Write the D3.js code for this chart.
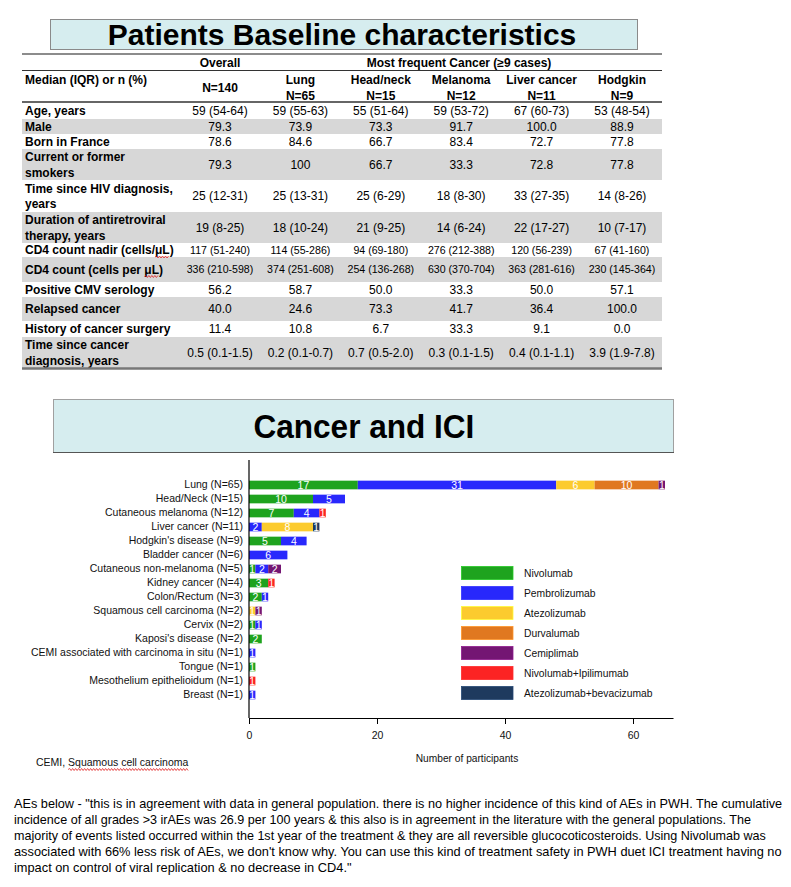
<!DOCTYPE html>
<html><head><meta charset="utf-8">
<script src="https://cdn.jsdelivr.net/npm/d3@7"></script>
<style>body{margin:0;background:#fff} svg{display:block;font-family:"Liberation Sans",Arial,sans-serif}</style>
</head><body><svg id="c" width="791" height="887"></svg>
<script>
// ---------- Table data ----------
const tableColumns = ["Overall","Lung","Head/neck","Melanoma","Liver cancer","Hodgkin"];
const tableN = ["N=140","N=65","N=15","N=12","N=11","N=9"];
const rowLabels = [["Age, years"],["Male"],["Born in France"],["Current or former","smokers"],["Time since HIV diagnosis,","years"],["Duration of antiretroviral","therapy, years"],["CD4 count nadir (cells/μL)"],["CD4 count (cells per μL)"],["Positive CMV serology"],["Relapsed cancer"],["History of cancer surgery"],["Time since cancer","diagnosis, years"]];
const overallVals = ["59 (54-64)","79.3","78.6","79.3","25 (12-31)","19 (8-25)","117 (51-240)","336 (210-598)","56.2","40.0","11.4","0.5 (0.1-1.5)"];
const lungVals = ["59 (55-63)","73.9","84.6","100","25 (13-31)","18 (10-24)","114 (55-286)","374 (251-608)","58.7","24.6","10.8","0.2 (0.1-0.7)"];
const headNeckVals = ["55 (51-64)","73.3","66.7","66.7","25 (6-29)","21 (9-25)","94 (69-180)","254 (136-268)","50.0","73.3","6.7","0.7 (0.5-2.0)"];
const melanomaVals = ["59 (53-72)","91.7","83.4","33.3","18 (8-30)","14 (6-24)","276 (212-388)","630 (370-704)","33.3","41.7","33.3","0.3 (0.1-1.5)"];
const liverVals = ["67 (60-73)","100.0","72.7","72.8","33 (27-35)","22 (17-27)","120 (56-239)","363 (281-616)","50.0","36.4","9.1","0.4 (0.1-1.1)"];
const hodgkinVals = ["53 (48-54)","88.9","77.8","77.8","14 (8-26)","10 (7-17)","67 (41-160)","230 (145-364)","57.1","100.0","0.0","3.9 (1.9-7.8)"];

// ---------- Chart data ----------
const categories = ["Lung (N=65)","Head/Neck (N=15)","Cutaneous melanoma (N=12)","Liver cancer (N=11)","Hodgkin's disease (N=9)","Bladder cancer (N=6)","Cutaneous non-melanoma (N=5)","Kidney cancer (N=4)","Colon/Rectum (N=3)","Squamous cell carcinoma (N=2)","Cervix (N=2)","Kaposi's disease (N=2)","CEMI associated with carcinoma in situ (N=1)","Tongue (N=1)","Mesothelium epithelioidum (N=1)","Breast (N=1)"];
const seriesNames = ["Nivolumab","Pembrolizumab","Atezolizumab","Durvalumab","Cemiplimab","Nivolumab+Ipilimumab","Atezolizumab+bevacizumab"];
const nivolumab      = [17,10,7,0,5,0,1,3,2,0,1,2,0,1,0,0];
const pembrolizumab  = [31,5,4,2,4,6,2,0,1,0,1,0,1,0,0,1];
const atezolizumab   = [6,0,0,8,0,0,0,0,0,1,0,0,0,0,0,0];
const durvalumab     = [10,0,0,0,0,0,0,0,0,0,0,0,0,0,0,0];
const cemiplimab     = [1,0,0,0,0,0,2,0,0,1,0,0,0,0,0,0];
const nivoIpi        = [0,0,1,0,0,0,0,1,0,0,0,0,0,0,1,0];
const atezoBev       = [0,0,0,1,0,0,0,0,0,0,0,0,0,0,0,0];
const xTicks = [0,20,40,60];
const seriesColors = ["#1ea31e","#2828fc","#fccb2e","#e07820","#741673","#fc2323","#1e3a5e"];

const paragraph = [
 'AEs below - "this is in agreement with data in general population. there is no higher incidence of this kind of AEs in PWH. The cumulative',
 'incidence of all grades >3 irAEs was 26.9 per 100 years & this also is in agreement in the literature with the general populations. The',
 'majority of events listed occurred within the 1st year of the treatment & they are all reversible glucocoticosteroids. Using Nivolumab was',
 "associated with 66% less risk of AEs, we don't know why. You can use this kind of treatment safety in PWH duet ICI treatment having no",
 'impact on control of viral replication & no decrease in CD4."'
];
const paragraphEnds = [783,752,767,783,352];

const svg = d3.select("#c");
svg.append("rect").attr("width",791).attr("height",887).attr("fill","#fff");

function wavy(g, x0, x1, y){
  let d = `M${x0},${y}`; let up = true;
  for (let x = x0 + 1.5; x <= x1; x += 1.5){ d += `L${x},${y + (up ? -1 : 1)}`; up = !up; }
  g.append("path").attr("d", d).attr("fill","none").attr("stroke","#e02020").attr("stroke-width",0.8);
}

// ---------- Title 1 ----------
svg.append("rect").attr("x",50.5).attr("y",19.5).attr("width",587).attr("height",30).attr("fill","#d6edef").attr("stroke","#8a8a8a");
svg.append("text").attr("x",342).attr("y",45).attr("text-anchor","middle").attr("font-weight","bold").attr("font-size",30).attr("fill","#000").text("Patients Baseline characteristics");

// ---------- Table ----------
const T = svg.append("g");
const colX = d3.scalePoint().domain(tableColumns).range([220,622]);
const rowBounds = [103,119,134,149,180,212,243,257,282,297,321,337,368];
const tableL = 22, tableR = 662;
rowLabels.forEach((lab,i)=>{
  if (i % 2 === 1) T.append("rect").attr("x",tableL).attr("y",rowBounds[i]).attr("width",tableR-tableL).attr("height",rowBounds[i+1]-rowBounds[i]).attr("fill","#d7d7d7");
});
const colVals = [overallVals,lungVals,headNeckVals,melanomaVals,liverVals,hodgkinVals];
rowLabels.forEach((lab,i)=>{
  const cy = (rowBounds[i]+rowBounds[i+1])/2;
  if (lab.length === 1){
    const t = T.append("text").attr("x",25).attr("y",cy+4.3).attr("font-weight","bold").attr("font-size",12).text(lab[0]);
    const idx = lab[0].indexOf("μL");
    if (idx >= 0){
      const n = t.node();
      const xs = 25 + n.getSubStringLength(0, idx);
      const xe = xs + n.getSubStringLength(idx, 2);
      wavy(T, xs, xe, cy + 7);
    }
  } else {
    lab.forEach((l,k)=> T.append("text").attr("x",25).attr("y",cy - 7.5 + k*15.5 + 4.3).attr("font-weight","bold").attr("font-size",12).text(l));
  }
  const small = (i === 6 || i === 7);
  tableColumns.forEach((c,j)=>{
    T.append("text").attr("x",colX(c)).attr("y",cy + (small?3.8:4.3)).attr("text-anchor","middle").attr("font-size", small?10.6:12).text(colVals[j][i]);
  });
});
// header
T.append("text").attr("x",colX("Overall")).attr("y",67).attr("text-anchor","middle").attr("font-weight","bold").attr("font-size",12).text("Overall");
T.append("text").attr("x",459).attr("y",67).attr("text-anchor","middle").attr("font-weight","bold").attr("font-size",12).text("Most frequent Cancer (≥9 cases)");
T.append("text").attr("x",25).attr("y",84).attr("font-weight","bold").attr("font-size",12).text("Median (IQR) or n (%)");
tableColumns.forEach((c,j)=>{
  if (j === 0){
    T.append("text").attr("x",colX(c)).attr("y",92).attr("text-anchor","middle").attr("font-weight","bold").attr("font-size",12).text(tableN[j]);
  } else {
    T.append("text").attr("x",colX(c)).attr("y",84).attr("text-anchor","middle").attr("font-weight","bold").attr("font-size",12).text(c);
    T.append("text").attr("x",colX(c)).attr("y",100).attr("text-anchor","middle").attr("font-weight","bold").attr("font-size",12).text(tableN[j]);
  }
});
T.append("line").attr("x1",tableL).attr("x2",tableR).attr("y1",54).attr("y2",54).attr("stroke","#8c8c8c").attr("stroke-width",2);
T.append("line").attr("x1",tableL).attr("x2",tableR).attr("y1",70.5).attr("y2",70.5).attr("stroke","#333").attr("stroke-width",1);
T.append("line").attr("x1",tableL).attr("x2",tableR).attr("y1",102).attr("y2",102).attr("stroke","#666").attr("stroke-width",2);
T.append("line").attr("x1",tableL).attr("x2",tableR).attr("y1",368.5).attr("y2",368.5).attr("stroke","#777").attr("stroke-width",2.5);

// ---------- Title 2 ----------
svg.append("rect").attr("x",53.5).attr("y",399.5).attr("width",620).attr("height",53).attr("fill","#d6edef").attr("stroke","#a0a0a0");
svg.append("line").attr("x1",53).attr("x2",674).attr("y1",452.5).attr("y2",452.5).attr("stroke","#555");
{
  const t2 = svg.append("text").attr("font-weight","bold").attr("font-size",33).text("Cancer and ICI");
  const w = t2.node().getComputedTextLength();
  const k = 221 / w;
  t2.attr("transform",`translate(${364 - 110.5},438) scale(${k},1)`);
}

// ---------- Bar chart ----------
const x = d3.scaleLinear().domain([0,66.25]).range([249,673]);
const y = d3.scaleBand().domain(categories).range([478,702]).paddingInner(0.38).paddingOuter(0.19);
const seriesArrays = [nivolumab,pembrolizumab,atezolizumab,durvalumab,cemiplimab,nivoIpi,atezoBev];
const rows = categories.map((c,i)=>{ const o = {cat:c}; seriesNames.forEach((s,k)=> o[s] = seriesArrays[k][i]); return o; });
const stacked = d3.stack().keys(seriesNames)(rows);
const color = d3.scaleOrdinal().domain(seriesNames).range(seriesColors);
const C = svg.append("g");
stacked.forEach(layer=>{
  const g = C.append("g").attr("fill", color(layer.key));
  layer.forEach(d=>{
    if (d[1]-d[0] <= 0) return;
    g.append("rect").attr("x",x(d[0])).attr("y",y(d.data.cat)).attr("width",x(d[1])-x(d[0])).attr("height",y.bandwidth());
  });
});
stacked.forEach(layer=>{
  layer.forEach(d=>{
    const v = d[1]-d[0];
    if (v <= 0) return;
    C.append("text").attr("x",(x(d[0])+x(d[1]))/2).attr("y",y(d.data.cat)+y.bandwidth()/2+3.6)
      .attr("text-anchor","middle").attr("font-size",10.5).attr("fill","#fff").text(v);
  });
});
const yAx = C.append("g").attr("transform","translate(249,0)").call(d3.axisLeft(y).tickSize(0).tickPadding(6));
yAx.select(".domain").remove();
yAx.selectAll("text").attr("font-size",10.5).attr("fill","#111").attr("font-family","'Liberation Sans',Arial,sans-serif");
C.append("line").attr("x1",249).attr("x2",249).attr("y1",460).attr("y2",718).attr("stroke","#000").attr("stroke-width",1.2);
const xAx = C.append("g").attr("transform","translate(0,718)").call(d3.axisBottom(x).tickValues(xTicks).tickSize(6).tickSizeOuter(0).tickPadding(8));
xAx.select(".domain").attr("stroke-width",1.2);
xAx.selectAll("text").attr("font-size",10.5).attr("fill","#111").attr("font-family","'Liberation Sans',Arial,sans-serif");
C.append("text").attr("x",467).attr("y",761.5).attr("text-anchor","middle").attr("font-size",10.2).attr("fill","#111").text("Number of participants");

// legend
const L = svg.append("g");
seriesNames.forEach((s,k)=>{
  const cy = 573 + k*20;
  L.append("rect").attr("x",461.5).attr("y",cy-6.5).attr("width",51.5).attr("height",13).attr("fill",color(s)).attr("stroke",d3.color(color(s)).brighter(0.6)).attr("stroke-width",0.8);
  L.append("text").attr("x",524).attr("y",cy+3.6).attr("font-size",10.3).attr("fill","#111").text(s);
});

// footnote
const fn = svg.append("text").attr("x",36).attr("y",766).attr("font-size",10.5).attr("fill","#111").text("CEMI, Squamous cell carcinoma");
{
  const n = fn.node();
  const idx = "CEMI, Squamous cell carcinoma".indexOf("Squamous");
  const xs = 36 + n.getSubStringLength(0, idx);
  wavy(svg, xs, 36 + n.getComputedTextLength(), 769.5);
}

// paragraph (horizontally condensed to the reference widths)
paragraph.forEach((line,i)=>{
  const t = svg.append("text").attr("font-size",13).attr("fill","#000").text(line);
  const w = t.node().getComputedTextLength();
  const k = (paragraphEnds[i]-14) / w;
  t.attr("transform",`translate(14,${807.5 + i*16}) scale(${k},1)`);
});
</script></body></html>
